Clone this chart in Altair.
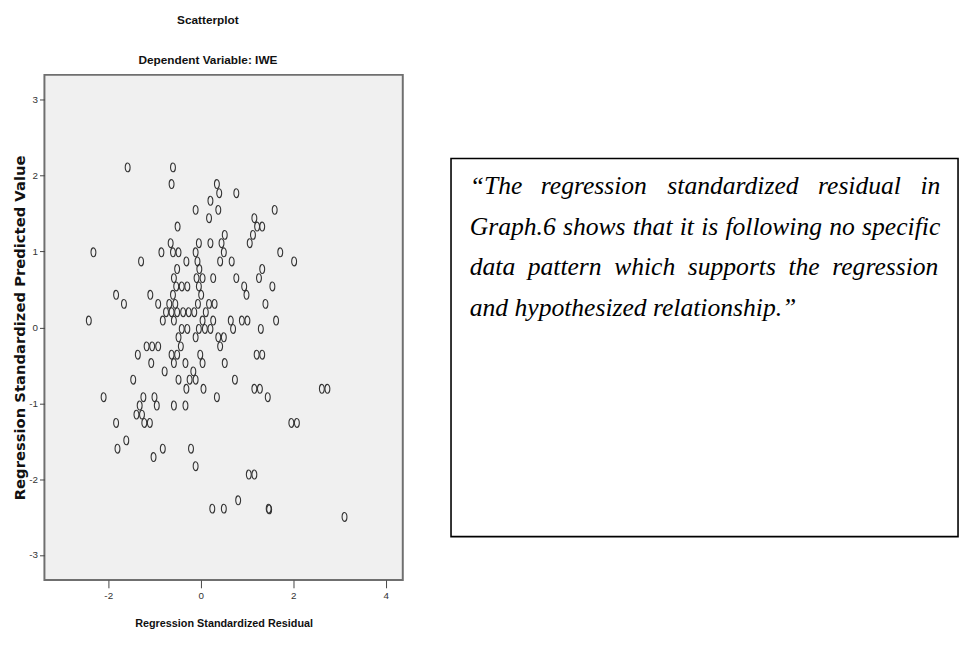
import altair as alt
import pandas as pd

# Regression standardized residual (x) and standardized predicted value (y)
residual = [-1.58, -0.60, -0.63, 0.35, 0.40, 0.77, 0.21, -0.11, 0.38, 1.60,
            0.18, 1.16, -0.50, 1.22, 1.33, 0.52, 1.13, 0.21, 0.45, 1.06,
            -0.65, -0.04, -2.32, -0.85, -0.60, -0.48, -0.11, 0.50, 1.72, -1.29,
            -0.31, -0.07, 0.42, 0.67, 2.02, -0.51, -0.03, 1.33, -0.58, -0.09,
            0.04, 0.27, 0.77, 1.26, -0.53, -0.41, -0.29, -0.04, 0.94, 1.55,
            -1.83, -1.09, -0.60, 0.01, 0.99, -1.66, -0.92, -0.68, -0.55, -0.06,
            0.18, 0.30, 1.40, -0.75, -0.63, -0.51, -0.38, -0.26, -0.14, 0.11,
            -2.42, -0.82, -0.58, 0.04, 0.27, 0.65, 0.89, 1.01, 1.63, -0.41,
            -0.29, -0.04, 0.09, 0.21, 0.70, 1.30, -0.48, -0.11, 0.38, 0.50,
            -1.17, -1.05, -0.92, -0.43, 0.42, -1.36, -0.63, -0.51, -0.01, 1.21,
            1.33, -1.07, -0.58, -0.33, 0.04, 0.52, -0.78, -0.16, -1.46, -0.48,
            -0.24, -0.11, 0.74, -0.31, 0.06, 1.16, 1.28, 2.62, 2.74, -2.10,
            -1.24, -1.00, 0.35, 1.45, -1.32, -0.95, -0.58, -0.33, -1.39, -1.27,
            -1.83, -1.22, -1.10, 1.96, 2.08, -1.61, -1.80, -0.82, -0.21, -1.02,
            -0.11, 1.04, 1.16, 0.81, 0.25, 0.50, 1.47, 1.48, 3.11]
predicted = [2.11, 2.11, 1.89, 1.89, 1.77, 1.77, 1.67, 1.55, 1.55, 1.55,
             1.44, 1.44, 1.33, 1.33, 1.33, 1.22, 1.22, 1.11, 1.11, 1.11,
             1.11, 1.11, 0.99, 0.99, 0.99, 0.99, 0.99, 0.99, 0.99, 0.87,
             0.87, 0.87, 0.87, 0.87, 0.87, 0.77, 0.77, 0.77, 0.65, 0.65,
             0.65, 0.65, 0.65, 0.65, 0.54, 0.54, 0.54, 0.54, 0.54, 0.54,
             0.43, 0.43, 0.43, 0.43, 0.43, 0.31, 0.31, 0.31, 0.31, 0.31,
             0.31, 0.31, 0.31, 0.20, 0.20, 0.20, 0.20, 0.20, 0.20, 0.20,
             0.09, 0.09, 0.09, 0.09, 0.09, 0.09, 0.09, 0.09, 0.09, -0.02,
             -0.02, -0.02, -0.02, -0.02, -0.02, -0.02, -0.13, -0.13, -0.13, -0.13,
             -0.25, -0.25, -0.25, -0.25, -0.25, -0.36, -0.36, -0.36, -0.36, -0.36,
             -0.36, -0.47, -0.47, -0.47, -0.47, -0.47, -0.58, -0.58, -0.69, -0.69,
             -0.69, -0.69, -0.69, -0.81, -0.81, -0.81, -0.81, -0.81, -0.81, -0.92,
             -0.92, -0.92, -0.92, -0.92, -1.03, -1.03, -1.03, -1.03, -1.15, -1.15,
             -1.26, -1.26, -1.26, -1.26, -1.26, -1.49, -1.60, -1.60, -1.60, -1.71,
             -1.83, -1.94, -1.94, -2.28, -2.39, -2.39, -2.39, -2.40, -2.50]

x_ticks = [-2, 0, 2, 4]
y_ticks = [-3, -2, -1, 0, 1, 2, 3]

note_lines = [
    "\u201cThe regression standardized residual in",
    "Graph.6 shows that it is following no specific",
    "data pattern which supports the regression",
    "and hypothesized relationship.\u201d",
]

SANS = "Liberation Sans, Arial, sans-serif"
SERIF = "Liberation Serif, Times New Roman, serif"
ELLIPSE = "M0,-1A0.55,1,0,1,1,0,1A0.55,1,0,1,1,0,-1Z"

# --- justified text layout (Times italic advance widths, per 1000 em) ---
TIMES_ITALIC = {" ": 250, "\u201c": 556, "\u201d": 556, ".": 250, "T": 556, "G": 722,
                "6": 500, "a": 500, "b": 500, "c": 444, "d": 500, "e": 444, "f": 278,
                "g": 500, "h": 500, "i": 278, "l": 278, "n": 500, "o": 500, "p": 500,
                "r": 389, "s": 389, "t": 278, "u": 500, "w": 667, "y": 444, "z": 389}
NOTE_SIZE = 26
TEXT_LEFT = 19
TEXT_WIDTH = 478


def word_width(w):
    return sum(TIMES_ITALIC.get(ch, 500) for ch in w) * NOTE_SIZE / 1000.0


rows = []
for i, line in enumerate(note_lines):
    words = line.split(" ")
    if i == len(note_lines) - 1:
        rows.append({"line": i, "word": line, "xpos": TEXT_LEFT})
        continue
    widths = [word_width(w) for w in words]
    gap = (TEXT_WIDTH - sum(widths)) / (len(words) - 1)
    pos = TEXT_LEFT
    for w, wd in zip(words, widths):
        rows.append({"line": i, "word": w, "xpos": pos})
        pos += wd + gap
note_df = pd.DataFrame(rows)

df = pd.DataFrame({"residual": residual, "predicted": predicted})

scatter = alt.Chart(df).mark_point(
    shape=ELLIPSE, size=81, filled=False, color="#333333", strokeWidth=1.1, opacity=1
).encode(
    x=alt.X("residual:Q",
            scale=alt.Scale(domain=[-3.38, 4.37], nice=False, zero=False),
            axis=alt.Axis(values=x_ticks, labelExpr="'' + datum.value", grid=False,
                          domain=False, tickSize=8, tickColor="#444444",
                          labelFont=SANS, labelFontSize=10, labelColor="#333333",
                          labelPadding=3,
                          title="Regression Standardized Residual",
                          titleFont=SANS, titleFontSize=11, titleFontWeight="bold",
                          titleColor="#111111", titlePadding=17)),
    y=alt.Y("predicted:Q",
            scale=alt.Scale(domain=[-3.33, 3.33], nice=False, zero=False),
            axis=alt.Axis(values=y_ticks, labelExpr="'' + datum.value", grid=False,
                          domain=False, tickSize=5, tickColor="#444444",
                          labelFont=SANS, labelFontSize=10, labelColor="#333333",
                          labelPadding=2,
                          title="Regression Standardized Predicted Value",
                          titleFont="DejaVu Sans", titleFontSize=15, titleFontWeight="bold",
                          titleColor="#111111", titlePadding=1)),
).properties(
    width=364, height=513,
    view=alt.ViewBackground(fill="#f0f0f0", stroke="#6f6f6f", strokeWidth=2),
    title=alt.TitleParams(text="Scatterplot", subtitle="Dependent Variable: IWE",
                          font=SANS, fontSize=12, fontWeight="bold", color="#111111",
                          subtitleFont=SANS, subtitleFontSize=12,
                          subtitleFontWeight="bold", subtitleColor="#111111",
                          subtitlePadding=29, offset=8, anchor="middle", frame="bounds"),
)

box = alt.Chart(pd.DataFrame({"k": [0]})).mark_rect(
    fillOpacity=0, stroke="black", strokeWidth=1.6
).encode(x=alt.value(0), x2=alt.value(515), y=alt.value(85), y2=alt.value(469))

note = alt.Chart(note_df).mark_text(
    align="left", baseline="alphabetic", font=SERIF,
    fontStyle="italic", fontSize=NOTE_SIZE, color="black"
).encode(
    x=alt.X("xpos:Q", scale=alt.Scale(domain=[0, 515], range=[0, 515]), axis=None),
    y=alt.Y("line:Q", scale=alt.Scale(domain=[0, 3], range=[121, 245]), axis=None),
    text="word:N",
)

panel = alt.layer(box, note).properties(width=515, height=513)

chart = alt.hconcat(scatter, panel, spacing=46).properties(
    padding={"left": 4, "top": 0, "right": 0, "bottom": 0}
).configure_view(stroke="transparent")

chart.save("out.html", embed_options={"renderer": "svg", "actions": False})
